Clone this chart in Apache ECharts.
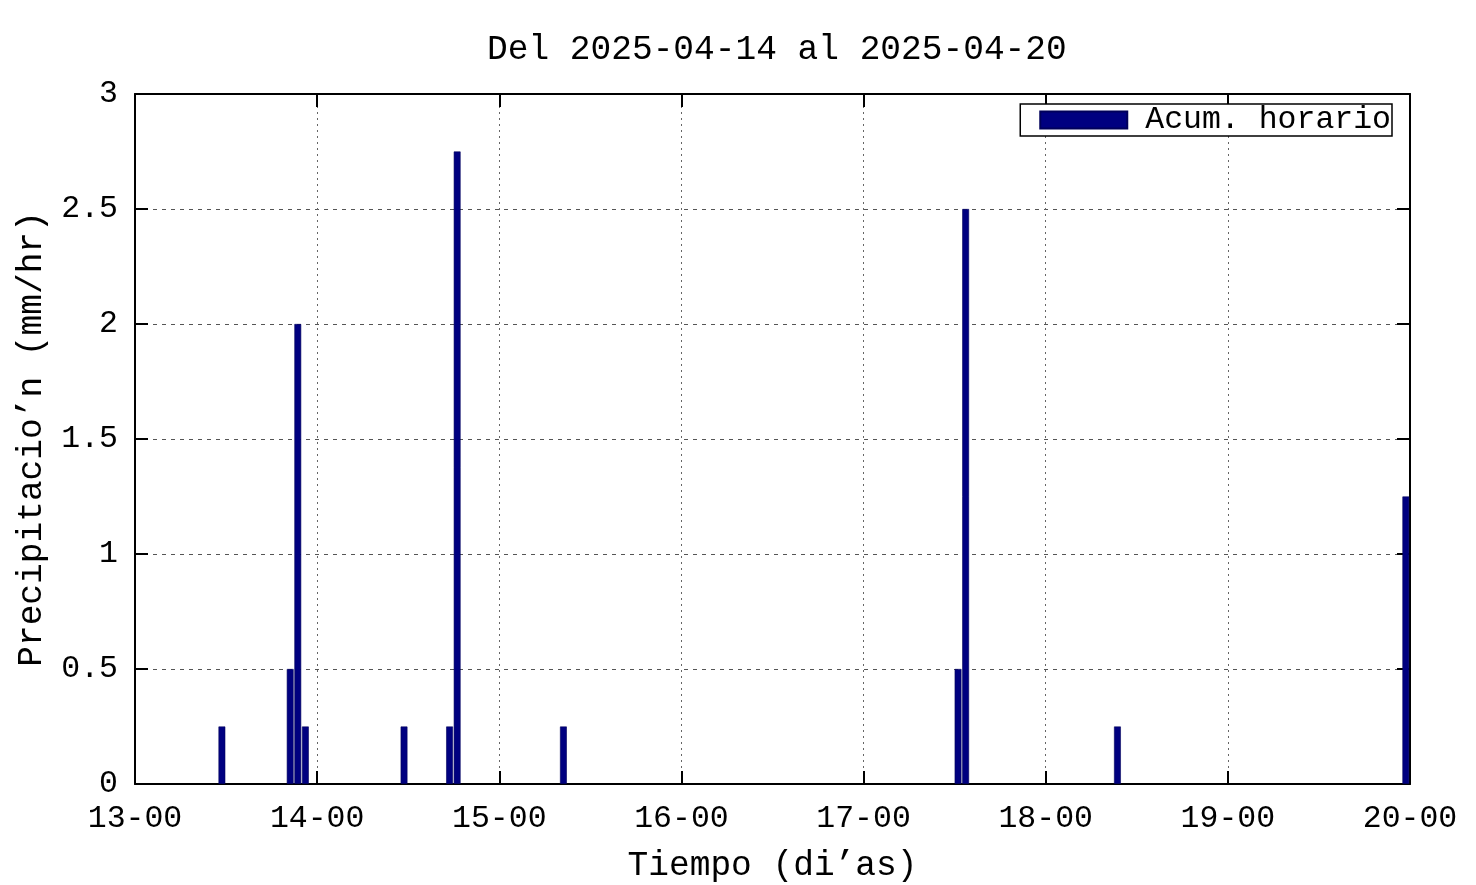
<!DOCTYPE html>
<html>
<head>
<meta charset="utf-8">
<script src="https://cdn.jsdelivr.net/npm/echarts@6/dist/echarts.min.js"></script>
<style>
html,body{margin:0;padding:0;background:#fff;}
#chart{width:1476px;height:885px;}
</style>
</head>
<body>
<div id="chart"></div>
<script>
// Hours since 2025-04-13 00:00 (bar centres) and hourly accumulated rain (mm/hr)
const hourOffsets = [11.45, 20.45, 21.45, 22.45, 35.45, 41.45, 42.45, 56.45, 108.45, 109.45, 129.45, 167.45];
const rainValues  = [0.25, 0.5, 2.0, 0.25, 0.25, 0.25, 2.75, 0.25, 0.5, 2.5, 0.25, 1.25];
const xTickLabels = ['13-00', '14-00', '15-00', '16-00', '17-00', '18-00', '19-00', '20-00'];
const titleText = 'Del 2025-04-14 al 2025-04-20';
const seriesName = 'Acum. horario';
const xName = 'Tiempo (di’as)';
const yName = 'Precipitacio’n (mm/hr)';

const FONT = '"Liberation Mono", "DejaVu Sans Mono", monospace';
const FS = 31.5;
const FS_BIG = 34.5;
const data = hourOffsets.map((h, i) => [h, rainValues[i]]);

const chart = echarts.init(document.getElementById('chart'), null, {renderer: 'canvas'});
function tickStyle() { return {show: true, inside: true, length: 13, lineStyle: {color: '#000', width: 2}}; }
function axisLineStyle() { return {show: true, onZero: false, lineStyle: {color: '#000', width: 2}}; }
chart.setOption({
  backgroundColor: '#fff',
  animation: false,
  textStyle: {fontFamily: FONT},
  title: {
    text: titleText, left: 482, top: 26,
    textStyle: {fontFamily: FONT, fontSize: FS_BIG, fontWeight: 'normal', color: '#000', lineHeight: 38}
  },
  legend: {
    right: 84, top: 104,
    orient: 'horizontal',
    itemWidth: 87, itemHeight: 17, itemGap: 0,
    padding: [0, 1, 0, 19],
    borderColor: '#000', borderWidth: 1.5, backgroundColor: '#fff',
    textStyle: {fontFamily: FONT, fontSize: FS, color: '#000', padding: [0, 0, 0, 13]},
    data: [{name: seriesName, icon: 'rect'}]
  },
  grid: {left: 135, right: 66, top: 94, bottom: 101, containLabel: false, outerBoundsMode: 'none'},
  xAxis: [{
    type: 'value', min: 0, max: 168, interval: 24, position: 'bottom',
    name: xName, nameLocation: 'middle', nameGap: 64,
    nameTextStyle: {fontFamily: FONT, fontSize: FS_BIG, color: '#000'},
    axisLine: axisLineStyle(), axisTick: tickStyle(),
    axisLabel: {fontFamily: FONT, fontSize: FS, color: '#000', margin: 19,
      formatter: v => xTickLabels[Math.round(v / 24)]},
    splitLine: {show: true, lineStyle: {color: '#666', width: 1, type: [2, 4]}}
  }, {
    type: 'value', min: 0, max: 168, interval: 24, position: 'top',
    axisLine: axisLineStyle(), axisTick: tickStyle(), axisLabel: {show: false}, splitLine: {show: false}
  }],
  yAxis: [{
    type: 'value', min: 0, max: 3, interval: 0.5, position: 'left',
    name: yName, nameLocation: 'middle', nameGap: 86, nameRotate: 90,
    nameTextStyle: {fontFamily: FONT, fontSize: FS_BIG, color: '#000'},
    axisLine: axisLineStyle(), axisTick: tickStyle(),
    axisLabel: {fontFamily: FONT, fontSize: FS, color: '#000', margin: 17,
      formatter: v => String(v)},
    splitLine: {show: true, lineStyle: {color: '#555', width: 1, type: [4, 5]}}
  }, {
    type: 'value', min: 0, max: 3, interval: 0.5, position: 'right',
    axisLine: axisLineStyle(), axisTick: tickStyle(), axisLabel: {show: false}, splitLine: {show: false}
  }],
  series: [{
    name: seriesName, type: 'bar', xAxisIndex: 0, yAxisIndex: 0,
    data: data, barWidth: 6.8, clip: true,
    itemStyle: {color: '#000080', borderColor: '#00005a', borderWidth: 0.6}
  }]
});
</script>
</body>
</html>
